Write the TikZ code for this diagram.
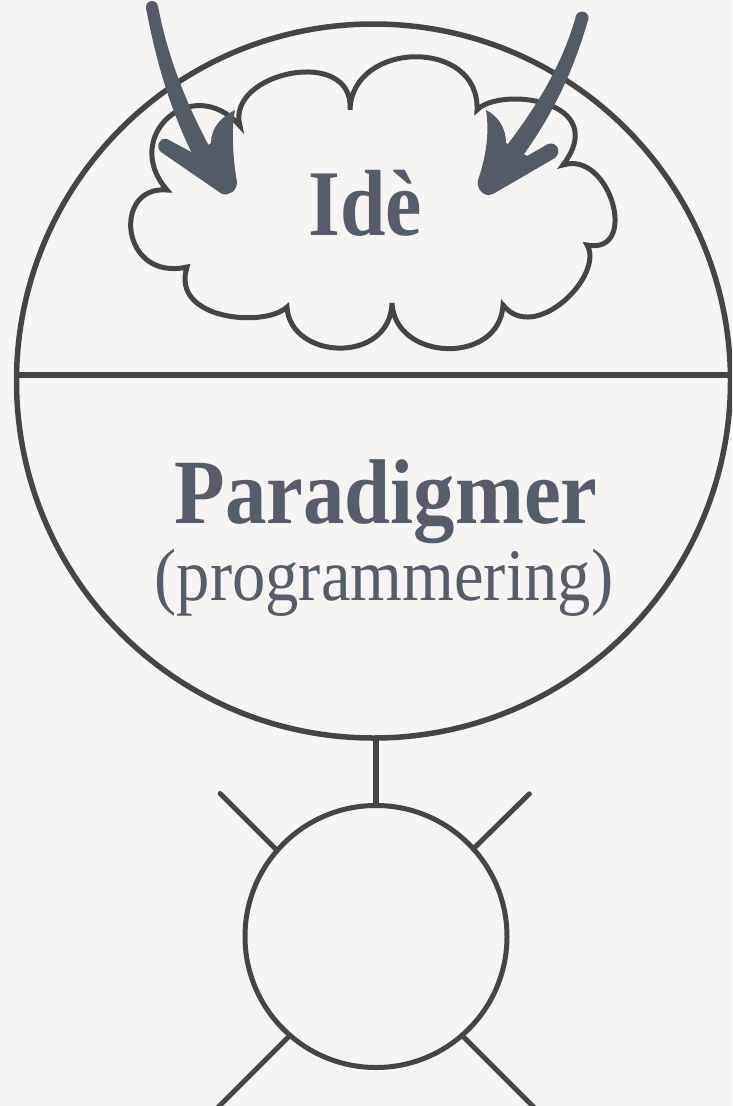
\documentclass[tikz,border=0pt]{standalone}
\usepackage{fontspec}
\setmainfont{Liberation Serif}
\usepackage{graphicx}
\definecolor{bg}{HTML}{F6F5F3}
\definecolor{ink}{HTML}{454545}
\definecolor{txt}{HTML}{545D69}
\definecolor{arr}{HTML}{525B66}
\begin{document}
\begin{tikzpicture}[x=1pt,y=-1pt,
  ring/.style={circle, draw=ink, inner sep=0pt, outer sep=0pt},
  bigline/.style={draw=ink, line width=5.5pt},
  cloudline/.style={draw=ink, line width=5pt},
  ray/.style={draw=ink, line width=5pt, line cap=round},
  label/.style={text=txt, anchor=base, inner sep=0pt},
  arrowfill/.style={fill=arr}]
\useasboundingbox (0,0) rectangle (732,1106);
\fill[bg] (0,0) rectangle (732,1106);
\clip (0,0) rectangle (732,1106);

% big circle and divider
\node[ring, line width=5.5pt, minimum size=714pt] (big) at (373.5,381) {};
\draw[bigline] (big.179) -- (big.1);

% cloud
\draw[cloudline] (350,110)
 .. controls (352,40) and (480,38) .. (477,110)
 .. controls (500,86) and (612,100) .. (563,165)
 .. controls (610,150) and (640,255) .. (587,245)
 .. controls (605,275) and (535,345) .. (503,305)
 .. controls (500,365) and (395,362) .. (392,303)
 .. controls (390,365) and (290,360) .. (287,307)
 .. controls (265,328) and (170,320) .. (187,267)
 .. controls (120,282) and (112,185) .. (167,190)
 .. controls (120,136) and (193,72) .. (240,126)
 .. controls (225,72) and (355,45) .. (350,110) -- cycle;

% texts
\node[label, font=\bfseries\fontsize{94}{100}\selectfont] (idea) at (365.5,235) {\scalebox{0.87}[1]{Idè}};
\node[label, font=\bfseries\fontsize{92}{100}\selectfont] (para) at (386,523) {\scalebox{0.9}[1]{Paradigmer}};
\node[label, font=\fontsize{74}{80}\selectfont] (prog) at (384,600) {\scalebox{0.9}[1]{(programmering)}};

% small circle, stem and rays
\node[ring, line width=5pt, minimum size=262pt] (s) at (376,936.5) {};
\draw[bigline] (s.north) -- (s.north |- big.south);
\draw[ray] (s.139) -- +(-57,-57);
\draw[ray] (s.42) -- +(56,-55);
\draw[ray] (s.229) -- +(-90,90);
\draw[ray] (s.311) -- +(90,90);

% left arrow
\fill[arrowfill] (146,8) .. controls (156,61) and (172,120) .. (204,176)
  -- (220,166) .. controls (188,110) and (168,59) .. (158,6) -- cycle;
\fill[arrowfill] (152,7) circle (6pt);
\fill[arrowfill] (167,139) -- (195,154) -- (211,143)
  .. controls (211,128) and (221,117) .. (235,110)
  .. controls (231,130) and (233,160) .. (237,182)
  .. controls (237,191) and (229,196) .. (222,194)
  -- (161,152) .. controls (155,147) and (159,137) .. (167,139) -- cycle;

% right arrow
\fill[arrowfill] (576,16) .. controls (564,58) and (543,99) .. (504,149)
  -- (519,161) .. controls (557,110) and (576,62) .. (588,20) -- cycle;
\fill[arrowfill] (582,18) circle (6.5pt);
\fill[arrowfill] (506,143) -- (527,156) -- (548,144)
  .. controls (557,141) and (562,152) .. (555,158)
  -- (493,194) .. controls (484,198) and (476,189) .. (478,180)
  .. controls (485,160) and (490,135) .. (486,110)
  .. controls (498,116) and (506,128) .. (506,143) -- cycle;
\end{tikzpicture}
\end{document}
